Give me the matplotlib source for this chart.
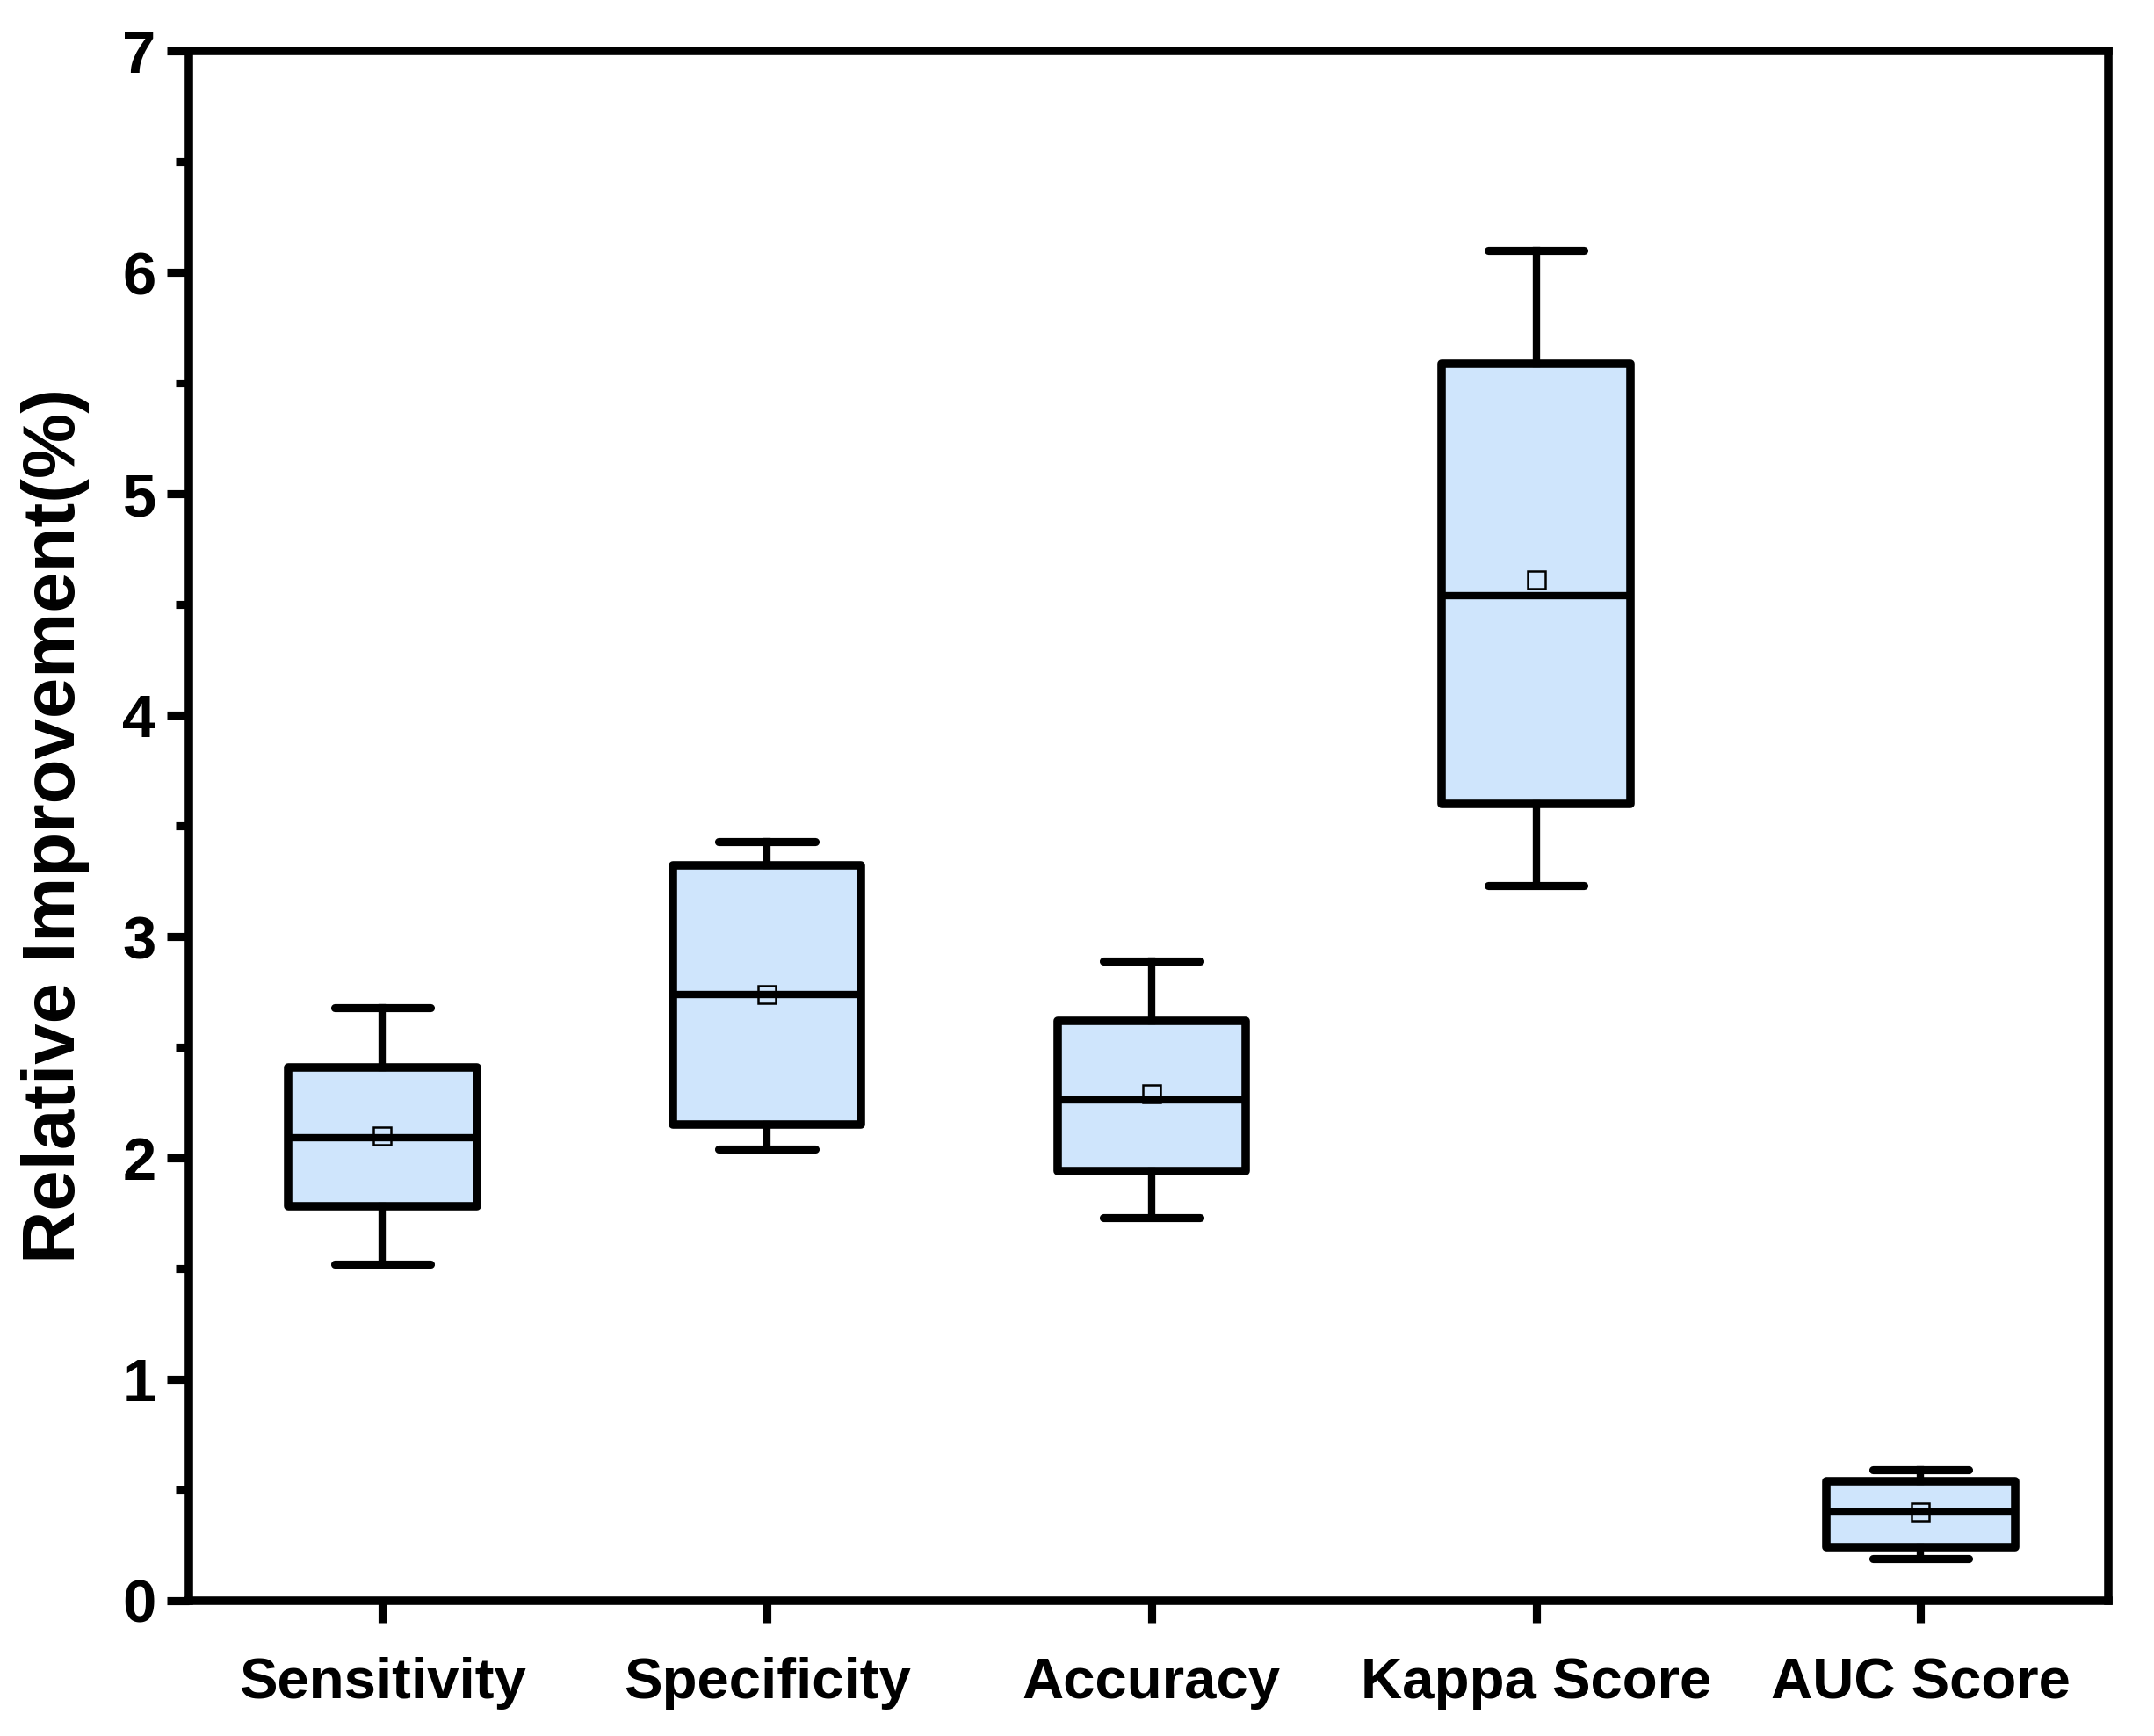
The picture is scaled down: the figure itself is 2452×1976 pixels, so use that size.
import matplotlib
matplotlib.use('Agg')
import matplotlib.pyplot as plt
from matplotlib.ticker import MultipleLocator

plt.rcParams['font.family'] = ['Liberation Sans', 'DejaVu Sans']
plt.rcParams['font.weight'] = 'bold'

# values
categories = ['Sensitivity', 'Specificity', 'Accuracy', 'Kappa Score', 'AUC Score']
whisker_low = [1.52, 2.04, 1.73, 3.23, 0.19]
q1 = [1.78, 2.15, 1.94, 3.60, 0.24]
median = [2.09, 2.74, 2.26, 4.54, 0.40]
mean = [2.10, 2.74, 2.29, 4.61, 0.40]
q3 = [2.41, 3.32, 2.62, 5.59, 0.54]
whisker_high = [2.68, 3.43, 2.89, 6.10, 0.59]

stats = []
for i in range(len(categories)):
    stats.append(dict(label=categories[i], whislo=whisker_low[i], q1=q1[i],
                      med=median[i], mean=mean[i], q3=q3[i],
                      whishi=whisker_high[i], fliers=[]))

fig = plt.figure(figsize=(2453/300, 1976/300), dpi=300)
ax = fig.add_axes([0.0877, 0.0780, 0.8905, 0.8925])

ax.bxp(stats, positions=range(1, 6), widths=0.49, patch_artist=True,
       showmeans=True, showfliers=False,
       boxprops=dict(facecolor='#cfe5fc', edgecolor='black', linewidth=2.3,
                     joinstyle='round'),
       medianprops=dict(color='black', linewidth=2.0),
       whiskerprops=dict(color='black', linewidth=2.0),
       capprops=dict(color='black', linewidth=2.2, solid_capstyle='round'),
       capwidths=0.25,
       meanprops=dict(marker='s', markersize=4.6, markerfacecolor='none',
                      markeredgecolor='black', markeredgewidth=0.6))

ax.set_xlim(0.497, 5.487)
ax.set_ylim(0, 7)
ax.yaxis.set_major_locator(MultipleLocator(1))
ax.yaxis.set_minor_locator(MultipleLocator(0.5))
ax.tick_params(axis='both', which='major', direction='out', length=6, width=2.2,
               labelsize=16.5, pad=3)
ax.tick_params(axis='y', which='minor', direction='out', length=3.5, width=2.2)
ax.tick_params(axis='x', which='minor', bottom=False)
ax.tick_params(axis='x', labelsize=15.7, pad=9.5)
for lab in ax.get_xticklabels() + ax.get_yticklabels():
    lab.set_fontweight('bold')
for s in ax.spines.values():
    s.set_linewidth(2.3)

ax.set_ylabel('Relative Improvement(%)', fontsize=20, fontweight='bold', labelpad=9)

fig.savefig('out.png', dpi=300)
